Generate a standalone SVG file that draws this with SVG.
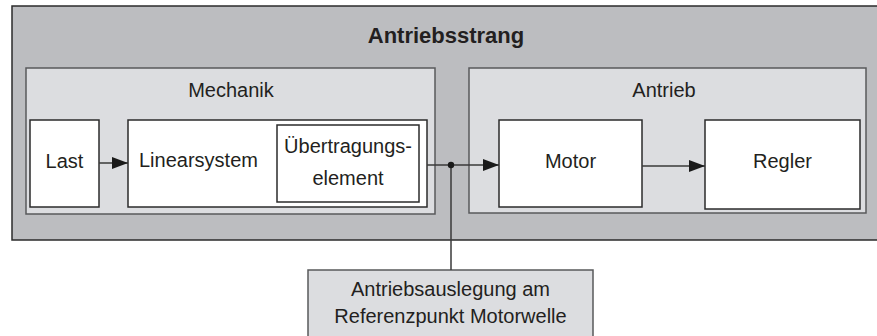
<svg xmlns="http://www.w3.org/2000/svg" width="877" height="336" viewBox="0 0 877 336">
  <style>
    .t { font-family: "Liberation Sans", Arial, sans-serif; font-size: 20px; fill: #231f20; text-anchor: middle; }
    .title { font-weight: bold; font-size: 22px; }
    .outer { fill: #bcbdc0; stroke: #2b2b2b; stroke-width: 1.5; }
    .group { fill: #dcdde0; stroke: #58595b; stroke-width: 1.5; }
    .box { fill: #ffffff; stroke: #2b2b2b; stroke-width: 1.5; }
    .note { fill: #dcdde0; stroke: #58595b; stroke-width: 1.5; }
    .conn { stroke: #3a3a3a; stroke-width: 1.5; fill: none; }
  </style>
  <defs>
    <marker id="arr" viewBox="0 0 16 12" refX="16" refY="6" markerWidth="16" markerHeight="12" markerUnits="userSpaceOnUse" orient="auto">
      <path d="M0,0 L16,6 L0,12 Z" fill="#1a1a1a"/>
    </marker>
  </defs>

  <g id="antriebsstrang">
    <rect class="outer" x="12" y="6" width="880" height="234"/>
    <text class="t title" x="446" y="43">Antriebsstrang</text>
  </g>

  <g id="mechanik">
    <rect class="group" x="26" y="68" width="409" height="146"/>
    <text class="t" x="231" y="97">Mechanik</text>
  </g>

  <g id="antrieb">
    <rect class="group" x="469" y="68" width="397" height="145"/>
    <text class="t" x="664" y="97">Antrieb</text>
  </g>

  <g id="last">
    <rect class="box" x="30" y="120" width="69" height="87"/>
    <text class="t" x="64.5" y="168">Last</text>
  </g>

  <g id="linearsystem">
    <rect class="box" x="128" y="120" width="299" height="87"/>
    <text class="t" x="139" y="167" style="text-anchor:start">Linearsystem</text>
  </g>

  <g id="uebertragungselement">
    <rect class="box" x="277" y="125" width="142" height="77"/>
    <text class="t" x="348" y="153">Übertragungs-</text>
    <text class="t" x="348" y="185">element</text>
  </g>

  <g id="motor">
    <rect class="box" x="499" y="120" width="143" height="87"/>
    <text class="t" x="570.5" y="168">Motor</text>
  </g>

  <g id="regler">
    <rect class="box" x="705" y="120" width="155" height="89"/>
    <text class="t" x="782.5" y="168">Regler</text>
  </g>

  <g id="referenzpunkt">
    <rect class="note" x="308" y="270" width="285" height="80"/>
    <text class="t" x="450.5" y="296">Antriebsauslegung am</text>
    <text class="t" x="450.5" y="323">Referenzpunkt Motorwelle</text>
  </g>

  <g id="connectors">
    <line class="conn" x1="99" y1="163" x2="128" y2="163" marker-end="url(#arr)"/>
    <line class="conn" x1="427" y1="165" x2="499" y2="165" marker-end="url(#arr)"/>
    <line class="conn" x1="642" y1="166" x2="705" y2="166" marker-end="url(#arr)"/>
    <line class="conn" x1="451" y1="165" x2="451" y2="270"/>
    <circle cx="451" cy="165" r="3.2" fill="#1a1a1a"/>
  </g>
</svg>
